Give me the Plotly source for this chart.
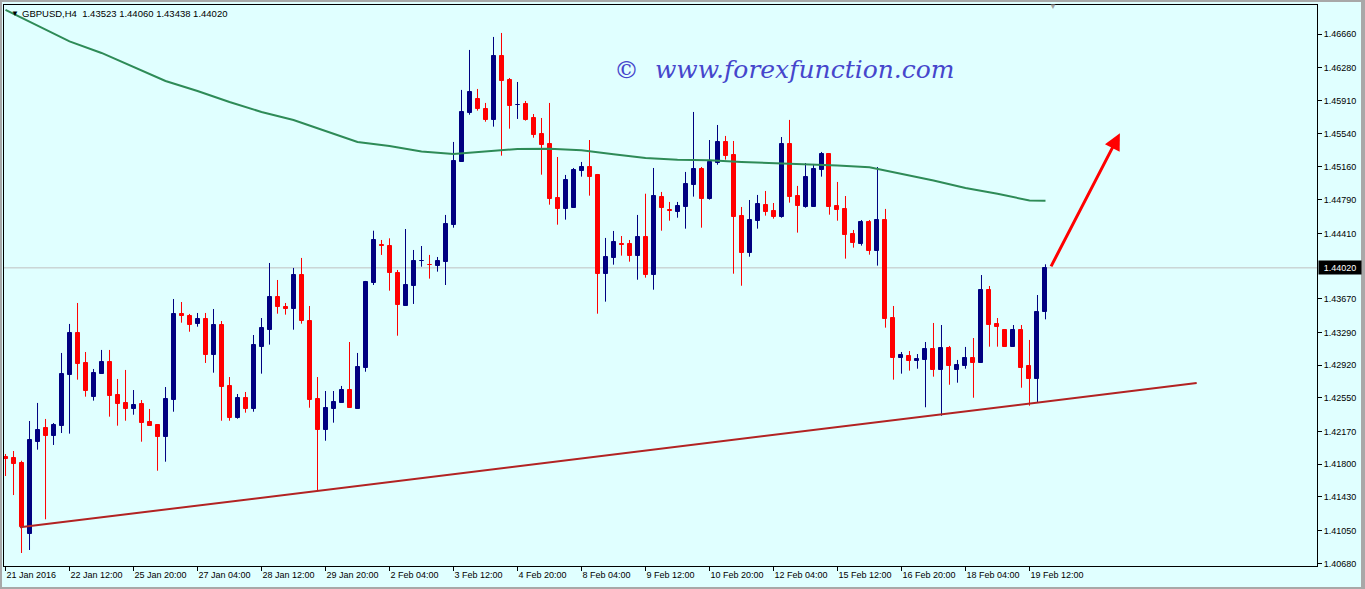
import plotly.graph_objects as go

# ---------------- data ----------------
symbol = "GBPUSD,H4"

opens = [1.41885, 1.41871, 1.41814, 1.41015, 1.42055, 1.42210, 1.42123, 1.42236, 1.42809, 1.43284,
         1.42945, 1.42564, 1.42824, 1.42956, 1.42583, 1.42493, 1.42428, 1.42481, 1.42278, 1.42244,
         1.42112, 1.42526, 1.43499, 1.43479, 1.43389, 1.43442, 1.43039, 1.43374, 1.42685, 1.42326,
         1.42549, 1.42428, 1.43129, 1.43321, 1.43691, 1.43578, 1.43559, 1.43939, 1.43419, 1.42538,
         1.42191, 1.42428, 1.42496, 1.42639, 1.42428, 1.42892, 1.43846, 1.44275, 1.44267, 1.43962,
         1.43592, 1.43818, 1.44092, 1.44056, 1.44045, 1.44090, 1.44508, 1.45220, 1.45774, 1.45929,
         1.45816, 1.45695, 1.46415, 1.46144, 1.45858, 1.45872, 1.45714, 1.45533, 1.45420, 1.44810,
         1.44689, 1.44700, 1.45118, 1.45160, 1.45070, 1.43954, 1.44135, 1.44286, 1.44290, 1.44158,
         1.44369, 1.43943, 1.44821, 1.44671, 1.44655, 1.44712, 1.44960, 1.45138, 1.44799, 1.45209,
         1.45443, 1.45296, 1.44606, 1.44192, 1.44553, 1.44731, 1.44663, 1.44598, 1.45420, 1.44832,
         1.44712, 1.44712, 1.45130, 1.45307, 1.44719, 1.44686, 1.44403, 1.44293, 1.44539, 1.44214,
         1.44561, 1.43453, 1.43005, 1.43024, 1.42971, 1.42982, 1.43103, 1.42869, 1.43114, 1.42869,
         1.42914, 1.43001, 1.42948, 1.43770, 1.43386, 1.43318, 1.43129, 1.43318, 1.42911, 1.42767,
         1.43523]

highs = [1.41916, 1.41950, 1.41840, 1.42289, 1.42493, 1.42312, 1.42266, 1.43058, 1.43386, 1.43623,
         1.43069, 1.42877, 1.43092, 1.43092, 1.42764, 1.42866, 1.42639, 1.42526, 1.42425, 1.42244,
         1.42673, 1.43668, 1.43634, 1.43499, 1.43510, 1.43510, 1.43555, 1.43419, 1.42786, 1.42594,
         1.42617, 1.43261, 1.43453, 1.44075, 1.43883, 1.43623, 1.44019, 1.44132, 1.43589, 1.42786,
         1.42628, 1.42628, 1.42685, 1.43182, 1.43058, 1.43872, 1.44440, 1.44335, 1.44354, 1.43996,
         1.44459, 1.44222, 1.44267, 1.44166, 1.44143, 1.44618, 1.45443, 1.46031, 1.46483, 1.46042,
         1.45884, 1.46630, 1.46675, 1.46166, 1.46121, 1.45906, 1.45759, 1.45714, 1.45884, 1.45273,
         1.45070, 1.45149, 1.45217, 1.45465, 1.45081, 1.44358, 1.44437, 1.44380, 1.44335, 1.44618,
         1.44858, 1.45149, 1.44878, 1.44765, 1.44765, 1.45104, 1.45782, 1.45160, 1.45465, 1.45635,
         1.45511, 1.45454, 1.44708, 1.44787, 1.44844, 1.44889, 1.44753, 1.45499, 1.45692, 1.44946,
         1.45205, 1.45194, 1.45330, 1.45307, 1.44991, 1.44832, 1.44448, 1.44561, 1.44561, 1.45160,
         1.44686, 1.43589, 1.43069, 1.43080, 1.43046, 1.43182, 1.43397, 1.43374, 1.43137, 1.42979,
         1.43126, 1.43227, 1.43939, 1.43815, 1.43453, 1.43318, 1.43374, 1.43374, 1.43205, 1.43713,
         1.44060]

lows = [1.41667, 1.41452, 1.40797, 1.40831, 1.41965, 1.41178, 1.42018, 1.42153, 1.42146, 1.42756,
        1.42564, 1.42519, 1.42824, 1.42338, 1.42236, 1.42292, 1.42360, 1.42055, 1.42236, 1.41727,
        1.41829, 1.42394, 1.43400, 1.43298, 1.43355, 1.42945, 1.42835, 1.42292, 1.42292, 1.42315,
        1.42383, 1.42394, 1.42824, 1.43152, 1.43502, 1.43491, 1.43321, 1.43389, 1.42439, 1.41509,
        1.42066, 1.42270, 1.42496, 1.42439, 1.42428, 1.42846, 1.43826, 1.44166, 1.43762, 1.43253,
        1.43592, 1.43612, 1.44033, 1.43898, 1.43977, 1.43826, 1.44474, 1.45220, 1.45751, 1.45797,
        1.45672, 1.45616, 1.45288, 1.45593, 1.45703, 1.45684, 1.45491, 1.45073, 1.44734, 1.44508,
        1.44565, 1.44700, 1.45051, 1.44836, 1.43502, 1.43638, 1.44056, 1.44158, 1.44090, 1.43886,
        1.43909, 1.43773, 1.44440, 1.44553, 1.44587, 1.44463, 1.44825, 1.44474, 1.44791, 1.45186,
        1.45243, 1.43954, 1.43818, 1.44146, 1.44463, 1.44610, 1.44576, 1.44587, 1.44757, 1.44418,
        1.44700, 1.44712, 1.45051, 1.44621, 1.44553, 1.44124, 1.44248, 1.44271, 1.44169, 1.44045,
        1.43344, 1.42756, 1.42824, 1.42858, 1.42880, 1.42444, 1.42790, 1.42349, 1.42699, 1.42722,
        1.42880, 1.42552, 1.42948, 1.43129, 1.43129, 1.43129, 1.43129, 1.42665, 1.42462, 1.42496,
        1.43438]

closes = [1.41863, 1.41806, 1.41087, 1.42074, 1.42187, 1.42123, 1.42247, 1.42820, 1.43284, 1.42937,
          1.42632, 1.42832, 1.42956, 1.42575, 1.42485, 1.42428, 1.42470, 1.42270, 1.42236, 1.42112,
          1.42538, 1.43499, 1.43479, 1.43378, 1.43442, 1.43039, 1.43374, 1.42677, 1.42326, 1.42549,
          1.42428, 1.43148, 1.43340, 1.43691, 1.43581, 1.43559, 1.43939, 1.43423, 1.42530, 1.42191,
          1.42436, 1.42504, 1.42639, 1.42439, 1.42896, 1.43860, 1.44335, 1.44264, 1.43965, 1.43600,
          1.43826, 1.44098, 1.44100, 1.44049, 1.44098, 1.44516, 1.45228, 1.45782, 1.46008, 1.45816,
          1.45695, 1.46415, 1.46136, 1.45853, 1.45865, 1.45695, 1.45525, 1.45412, 1.44802, 1.44689,
          1.45013, 1.45126, 1.45160, 1.45051, 1.43954, 1.44143, 1.44312, 1.44275, 1.44158, 1.44369,
          1.43943, 1.44832, 1.44700, 1.44663, 1.44719, 1.44968, 1.45138, 1.44802, 1.45217, 1.45443,
          1.45288, 1.44598, 1.44192, 1.44561, 1.44742, 1.44655, 1.44598, 1.45420, 1.44825, 1.44723,
          1.45047, 1.45138, 1.45307, 1.44712, 1.44678, 1.44395, 1.44305, 1.44539, 1.44214, 1.44561,
          1.43445, 1.43005, 1.43035, 1.42971, 1.42993, 1.43103, 1.42869, 1.43114, 1.42914, 1.42922,
          1.43001, 1.42948, 1.43770, 1.43378, 1.43355, 1.43129, 1.43318, 1.42892, 1.42767, 1.43521,
          1.44020]

bar_idx = list(range(len(opens)))

# moving average (read every 4th bar)
ma_idx = [0, 4, 8, 12, 16, 20, 24, 28, 32, 36, 40, 44, 48, 52, 56, 60, 64, 68, 72, 76,
          80, 84, 88, 92, 96, 100, 104, 108, 112, 116, 120, 124, 128, 130]
ma_vals = [1.46935, 1.46760, 1.46579, 1.46449, 1.46294, 1.46132, 1.46019, 1.45895, 1.45782, 1.45691,
           1.45567, 1.45443, 1.45397, 1.45335, 1.45307, 1.45335, 1.45363, 1.45367, 1.45349, 1.45304,
           1.45262, 1.45241, 1.45237, 1.45217, 1.45205, 1.45196, 1.45177, 1.45157, 1.45084, 1.45007,
           1.44923, 1.44858, 1.44781, 1.44779]

x_tick_idx = [0, 8, 16, 24, 32, 40, 48, 56, 64, 72, 80, 88, 96, 104, 112, 120, 128]
x_tick_labels = ["21 Jan 2016", "22 Jan 12:00", "25 Jan 20:00", "27 Jan 04:00", "28 Jan 12:00",
                 "29 Jan 20:00", "2 Feb 04:00", "3 Feb 12:00", "4 Feb 20:00", "8 Feb 04:00",
                 "9 Feb 12:00", "10 Feb 20:00", "12 Feb 04:00", "15 Feb 12:00", "16 Feb 20:00",
                 "18 Feb 04:00", "19 Feb 12:00"]

y_tick_vals = [1.46660, 1.46280, 1.45910, 1.45540, 1.45160, 1.44790, 1.44410, 1.43670,
               1.43290, 1.42920, 1.42550, 1.42170, 1.41800, 1.41430, 1.41050, 1.40680]
y_tick_labels = ["1.46660", "1.46280", "1.45910", "1.45540", "1.45160", "1.44790", "1.44410", "1.43670",
                 "1.43290", "1.42920", "1.42550", "1.42170", "1.41800", "1.41430", "1.41050", "1.40680"]

trend_x = [1.8, 148.9]
trend_y = [1.41087, 1.42718]
arrow_x = [130.6, 139.3]
arrow_y = [1.44020, 1.45541]
last_price = closes[-1]

x_range = [-0.19, 163.94]
y_range = [1.40650, 1.46991]

# ---------------- style ----------------
BULL = "#000080"
BEAR = "#FF0000"
BG = "#E0FFFF"
MA_COL = "#2E8B57"
TREND_COL = "#B22222"
FONT = "Liberation Sans"

W, H = 1365, 589
ML, MR, MT, MB = 4, 48, 5, 23
PW, PH = W - ML - MR, H - MT - MB


def px(x):
    return (x - ML) / PW


def py(y):
    return 1 - (y - MT) / PH


colors = [BULL if c >= o else BEAR for o, c in zip(opens, closes)]
body_base = [min(o, c) for o, c in zip(opens, closes)]
body_len = [abs(c - o) for o, c in zip(opens, closes)]

fig = go.Figure()

# wicks
for col in (BULL, BEAR):
    xs, ys = [], []
    for i in bar_idx:
        if colors[i] == col:
            xs += [i, i, None]
            ys += [lows[i], highs[i], None]
    fig.add_trace(go.Scatter(x=xs, y=ys, mode="lines", line=dict(color=col, width=1),
                             hoverinfo="skip", showlegend=False))

# bodies
fig.add_trace(go.Bar(x=bar_idx, y=body_len, base=body_base, width=0.5,
                     marker=dict(color=colors, line=dict(color=colors, width=1)),
                     hoverinfo="skip", showlegend=False))

# moving average
fig.add_trace(go.Scatter(x=ma_idx, y=ma_vals, mode="lines", line=dict(color=MA_COL, width=2),
                         hoverinfo="skip", showlegend=False))

# trend line
fig.add_trace(go.Scatter(x=trend_x, y=trend_y, mode="lines", line=dict(color=TREND_COL, width=2),
                         hoverinfo="skip", showlegend=False))

# current price line
fig.add_shape(type="line", xref="paper", x0=0, x1=1, yref="y", y0=last_price, y1=last_price,
              line=dict(color="#C0C0C0", width=1), layer="below")

# window frame strips
frame = "#A8A8A8"
fig.add_shape(type="rect", xref="paper", yref="paper", x0=px(0), x1=px(W), y0=py(0), y1=py(2),
              fillcolor=frame, line_width=0)
fig.add_shape(type="rect", xref="paper", yref="paper", x0=px(1361), x1=px(W), y0=py(0), y1=py(H),
              fillcolor=frame, line_width=0)
fig.add_shape(type="rect", xref="paper", yref="paper", x0=px(0), x1=px(2), y0=py(0), y1=py(H),
              fillcolor=frame, line_width=0)
fig.add_shape(type="rect", xref="paper", yref="paper", x0=px(0), x1=px(W), y0=py(587), y1=py(H),
              fillcolor=frame, line_width=0)

annotations = [
    dict(x=px(9), y=py(13), xref="paper", yref="paper", text="▼", showarrow=False,
         xanchor="left", yanchor="middle", font=dict(family=FONT, size=8, color="black")),
    dict(x=px(20), y=py(14), xref="paper", yref="paper",
         text=f"{symbol}  {opens[-1]:.5f} {highs[-1]:.5f} {lows[-1]:.5f} {closes[-1]:.5f}",
         showarrow=False, xanchor="left", yanchor="middle",
         font=dict(family=FONT, size=9.5, color="black")),
    dict(x=px(784), y=py(70), xref="paper", yref="paper",
         text="<i>©  www.forexfunction.com</i>", showarrow=False, xanchor="center", yanchor="middle",
         font=dict(family="DejaVu Serif", size=25, color="#4646CC")),
    dict(x=px(1053), y=py(7), xref="paper", yref="paper", text="▼", showarrow=False,
         xanchor="center", yanchor="middle", font=dict(family=FONT, size=8, color="#A0A0A0")),
    dict(x=1, y=last_price, xref="paper", yref="y", text=f"{last_price:.5f}", showarrow=False,
         xanchor="left", yanchor="middle", xshift=1, bgcolor="black", borderpad=1,
         width=40, height=11, font=dict(family=FONT, size=9, color="white")),
    dict(x=arrow_x[1], y=arrow_y[1], ax=arrow_x[0], ay=arrow_y[0], xref="x", yref="y",
         axref="x", ayref="y", text="", showarrow=True, arrowhead=2, arrowsize=1.1,
         arrowwidth=3, arrowcolor="#FF0000"),
]

fig.update_layout(
    width=W, height=H,
    margin=dict(l=ML, r=MR, t=MT, b=MB),
    paper_bgcolor=BG, plot_bgcolor=BG,
    barmode="overlay", bargap=0,
    showlegend=False,
    annotations=annotations,
    xaxis=dict(range=x_range, tickvals=x_tick_idx, ticktext=x_tick_labels,
               ticks="outside", ticklen=4, tickcolor="black", ticklabelposition="outside right",
               showgrid=False, zeroline=False, showline=True, linecolor="black", linewidth=1,
               mirror=True, tickfont=dict(family=FONT, size=9, color="black"), fixedrange=True),
    yaxis=dict(range=y_range, side="right", tickvals=y_tick_vals, ticktext=y_tick_labels,
               ticks="outside", ticklen=4, tickcolor="black",
               showgrid=False, zeroline=False, showline=True, linecolor="black", linewidth=1,
               mirror=True, tickfont=dict(family=FONT, size=9, color="black"), fixedrange=True),
)

fig.write_html(
    "out.html",
    config={"displayModeBar": False},
    post_script="document.body.style.margin='0';document.body.style.overflow='hidden';"
                "document.documentElement.style.overflow='hidden';",
)
